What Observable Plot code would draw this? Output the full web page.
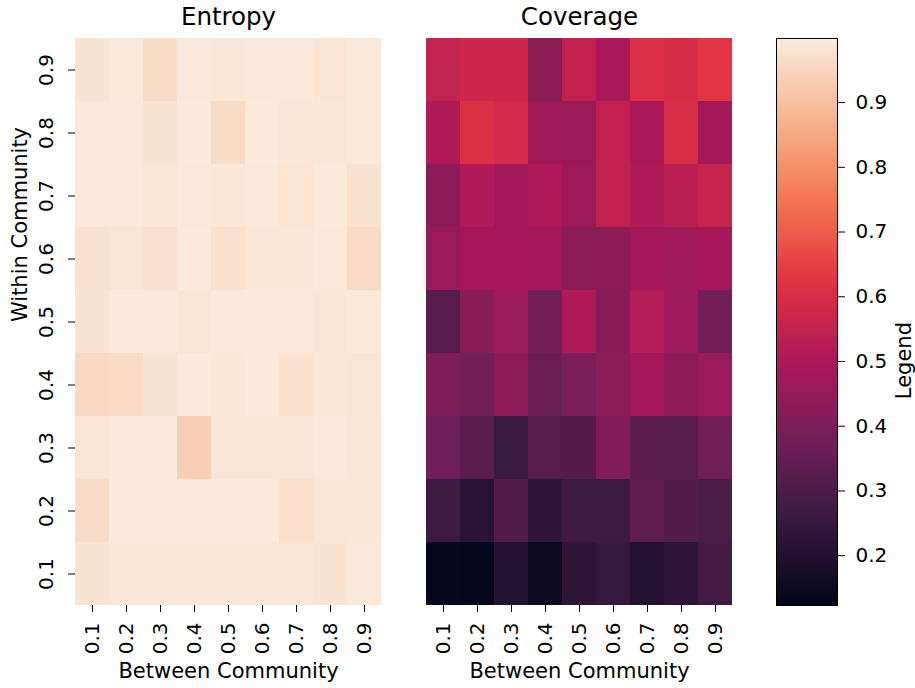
<!DOCTYPE html>
<html>
<head>
<meta charset="utf-8">
<script src="https://cdn.jsdelivr.net/npm/d3@7"></script>
<script src="https://cdn.jsdelivr.net/npm/@observablehq/plot@0.6"></script>
<style>
  body { margin: 0; background: #fff; }
  #wrap { position: relative; width: 915px; height: 688px; overflow: hidden; background: #fff; }
  #wrap svg { position: absolute; top: 0; }
</style>
</head>
<body>
<div id="wrap"></div>
<script>
// ---------- data ----------
const betweenLabels = ["0.1", "0.2", "0.3", "0.4", "0.5", "0.6", "0.7", "0.8", "0.9"];
const withinLabels  = ["0.1", "0.2", "0.3", "0.4", "0.5", "0.6", "0.7", "0.8", "0.9"];

// rows: within = 0.1 ... 0.9 ; columns: between = 0.1 ... 0.9
const entropyRows = [
  [0.982, 0.988, 0.988, 0.988, 0.988, 0.988, 0.988, 0.983, 0.994],
  [0.965, 0.996, 0.996, 0.996, 0.996, 0.996, 0.972, 0.988, 0.988],
  [0.985, 0.996, 0.996, 0.935, 0.988, 0.988, 0.988, 0.995, 0.988],
  [0.958, 0.960, 0.983, 0.997, 0.990, 0.997, 0.978, 0.988, 0.986],
  [0.983, 0.996, 0.996, 0.985, 0.996, 0.996, 0.996, 0.988, 0.993],
  [0.978, 0.985, 0.975, 0.996, 0.976, 0.987, 0.987, 0.995, 0.960],
  [0.995, 0.995, 0.988, 0.995, 0.990, 0.995, 0.985, 0.996, 0.978],
  [0.995, 0.995, 0.982, 0.996, 0.965, 0.996, 0.987, 0.987, 0.993],
  [0.983, 0.993, 0.965, 0.995, 0.990, 0.995, 0.995, 0.985, 0.993]
];

const coverageRows = [
  [0.133, 0.130, 0.204, 0.146, 0.228, 0.248, 0.200, 0.226, 0.275],
  [0.265, 0.221, 0.310, 0.228, 0.265, 0.265, 0.337, 0.305, 0.290],
  [0.372, 0.327, 0.254, 0.320, 0.315, 0.407, 0.327, 0.317, 0.370],
  [0.405, 0.373, 0.428, 0.360, 0.395, 0.427, 0.475, 0.432, 0.456],
  [0.320, 0.420, 0.460, 0.377, 0.507, 0.420, 0.520, 0.468, 0.377],
  [0.460, 0.480, 0.480, 0.475, 0.428, 0.428, 0.478, 0.472, 0.480],
  [0.432, 0.510, 0.475, 0.505, 0.467, 0.543, 0.510, 0.530, 0.555],
  [0.507, 0.610, 0.590, 0.467, 0.456, 0.545, 0.490, 0.600, 0.480],
  [0.550, 0.575, 0.575, 0.430, 0.545, 0.490, 0.606, 0.594, 0.630]
];

const colorTicks = [0.2, 0.3, 0.4, 0.5, 0.6, 0.7, 0.8, 0.9];
const colorDomain = [0.123, 0.999];
// seaborn "rocket" colormap stops
const rocketStops = ["#03051a", "#35193e", "#701f57", "#ad1759", "#e13342", "#f37651", "#f6b48f", "#faebdd"];

// ---------- helpers ----------
function toCells(rows) {
  const out = [];
  rows.forEach((row, i) => row.forEach((v, j) => out.push({x: betweenLabels[j], y: withinLabels[i], v})));
  return out;
}

const colorScale = {type: "linear", domain: colorDomain, interpolate: d3.piecewise(d3.interpolateRgb, rocketStops)};
const baseStyle = {fontFamily: "DejaVu Sans, sans-serif", fontSize: "20px", color: "black", background: "white", overflow: "visible"};

function heatmap(rows, title, width, marginLeft, marginRight, showY) {
  const marks = [
    Plot.cell(toCells(rows), {x: "x", y: "y", fill: "v"}),
    Plot.axisX({tickRotate: -90, tickSize: 7, tickPadding: 10, fontSize: 20, label: null, stroke: "black"}),
    Plot.text([title], {frameAnchor: "top", lineAnchor: "middle", dy: -21.3, fontSize: 24.5, fill: "black"}),
    Plot.text(["Between Community"], {frameAnchor: "bottom", lineAnchor: "middle", dy: 65.3, fontSize: 21, fill: "black"})
  ];
  if (showY) {
    marks.push(
      Plot.axisY({tickRotate: -90, tickSize: 7, tickPadding: 16, fontSize: 20, label: null, stroke: "black"}),
      Plot.text(["Within Community"], {frameAnchor: "left", lineAnchor: "middle", rotate: -90, dx: -55.7, fontSize: 21, fill: "black"})
    );
  }
  return Plot.plot({
    width, height: 688,
    marginLeft, marginRight, marginTop: 38, marginBottom: 83,
    style: baseStyle,
    x: {type: "band", domain: betweenLabels, padding: 0, round: false, axis: null},
    y: {type: "band", domain: withinLabels.slice().reverse(), padding: 0, round: false, axis: null},
    color: colorScale,
    marks
  });
}

const wrap = document.getElementById("wrap");

const p1 = heatmap(entropyRows, "Entropy", 400, 75, 19, true);
p1.style.left = "0px";
wrap.appendChild(p1);

const p2 = heatmap(coverageRows, "Coverage", 340, 26, 8, false);
p2.style.left = "400px";
wrap.appendChild(p2);

const p3 = Plot.plot({
  width: 175, height: 688,
  marginLeft: 36, marginRight: 78, marginTop: 38, marginBottom: 83,
  style: baseStyle,
  x: {domain: [0, 1], axis: null},
  y: {domain: colorDomain, axis: null},
  color: colorScale,
  marks: [
    Plot.raster({fill: (x, y) => y, x1: 0, x2: 1, y1: colorDomain[0], y2: colorDomain[1], width: 1, height: 567}),
    Plot.frame({stroke: "black", strokeWidth: 1}),
    Plot.axisY({anchor: "right", ticks: colorTicks, tickFormat: d3.format(".1f"), tickSize: 7, tickPadding: 11, fontSize: 20, label: null, stroke: "black"}),
    Plot.text(["Legend"], {frameAnchor: "right", lineAnchor: "middle", rotate: -90, dx: 66.3, fontSize: 21, fill: "black"})
  ]
});
p3.style.left = "740px";
wrap.appendChild(p3);
</script>
</body>
</html>
